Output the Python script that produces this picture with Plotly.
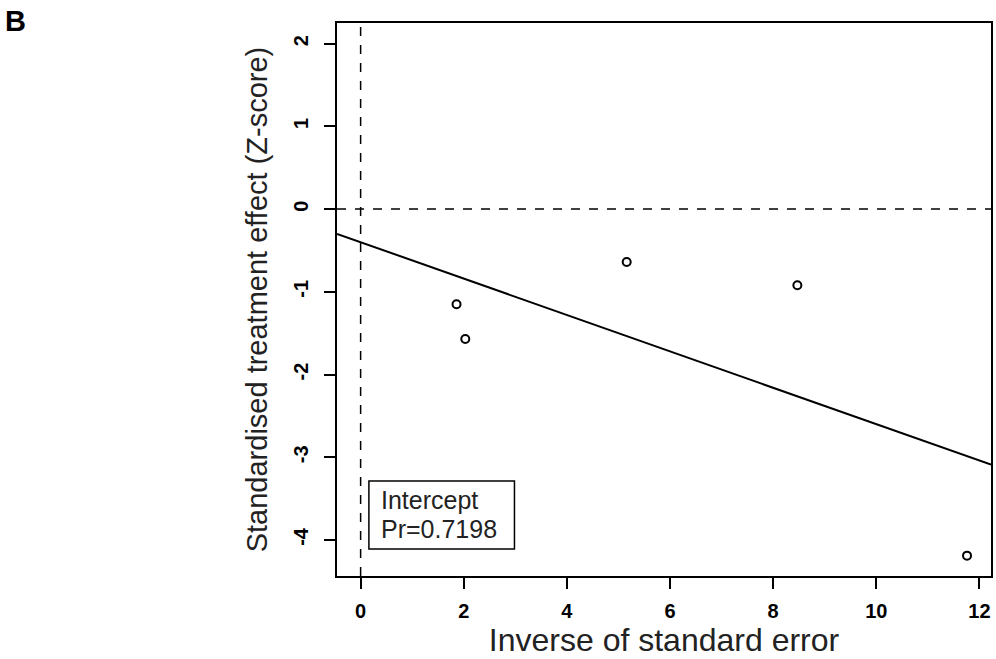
import plotly.graph_objects as go

# ---- data ----
precision = [1.86, 2.03, 5.16, 8.47, 11.76]          # inverse of standard error
zscore = [-1.15, -1.57, -0.64, -0.92, -4.19]          # standardised treatment effect
reg_intercept = -0.40
reg_slope = -0.220
x_ticks = [0, 2, 4, 6, 8, 10, 12]
y_ticks = [-4, -3, -2, -1, 0, 1, 2]
box_lines = ["Intercept", "Pr=0.7198"]

x_range = [-0.458, 12.225]
y_range = [-4.436, 2.25]

W, H = 996, 659
L, R, T, B = 337, 3, 23, 83
FONT = "Liberation Sans, Arial, sans-serif"

def px(xp):
    return (xp - L) / (W - L - R)

def py(yp):
    return (H - B - yp) / (H - T - B)

fig = go.Figure()

# regression line across the full x range
fig.add_trace(go.Scatter(
    x=x_range, y=[reg_intercept + reg_slope * v for v in x_range],
    mode="lines", line=dict(color="black", width=2), hoverinfo="skip", showlegend=False))

# points
fig.add_trace(go.Scatter(
    x=precision, y=zscore, mode="markers",
    marker=dict(symbol="circle-open", size=8, color="black", line=dict(width=2, color="black")),
    showlegend=False))

# dashed reference lines
fig.add_shape(type="line", xref="x", yref="paper", x0=0, x1=0, y0=0, y1=1,
              line=dict(color="black", width=1.5, dash="dash"))
fig.add_shape(type="line", xref="paper", yref="y", x0=0, x1=1, y0=0, y1=0,
              line=dict(color="black", width=1.5, dash="dash"))

# legend box
fig.add_shape(type="rect", xref="paper", yref="paper",
              x0=px(369), x1=px(515), y0=py(549), y1=py(481),
              line=dict(color="black", width=1.5), fillcolor="white")
for i, txt in enumerate(box_lines):
    fig.add_annotation(text=txt, xref="paper", yref="paper",
                       x=px(379), y=py(500 + 29 * i), xanchor="left", yanchor="middle",
                       showarrow=False, font=dict(family=FONT, size=25, color="#222"))

# panel label
fig.add_annotation(text="<b>B</b>", xref="paper", yref="paper", x=px(2), y=py(21),
                   xanchor="left", yanchor="middle", showarrow=False,
                   font=dict(family=FONT, size=29, color="black"))

fig.update_layout(
    width=W, height=H,
    margin=dict(l=L, r=R, t=T, b=B),
    paper_bgcolor="white", plot_bgcolor="white",
    font=dict(family=FONT, color="black"),
    showlegend=False,
)
fig.update_xaxes(
    range=x_range, tickvals=x_ticks, ticktext=[f"<b>{v}</b>" for v in x_ticks],
    showgrid=False, zeroline=False, showline=True, mirror=True, linecolor="black", linewidth=1.5,
    ticks="outside", ticklen=11, tickwidth=1.5, tickcolor="black",
    tickfont=dict(family=FONT, size=20, color="black"), ticklabelstandoff=5,
    title=dict(text="Inverse of standard error", font=dict(family=FONT, size=32, color="#222"), standoff=8),
)
fig.update_yaxes(
    range=y_range, tickvals=y_ticks, ticktext=[f"<b>{v}</b>" for v in y_ticks],
    showgrid=False, zeroline=False, showline=True, mirror=True, linecolor="black", linewidth=1.5,
    ticks="outside", ticklen=11, tickwidth=1.5, tickcolor="black", tickangle=-90,
    tickfont=dict(family=FONT, size=20, color="black"), ticklabelstandoff=8,
    title=dict(text="Standardised treatment effect (Z-score)", font=dict(family=FONT, size=29, color="#222"), standoff=14),
)

fig.write_html("out.html")
